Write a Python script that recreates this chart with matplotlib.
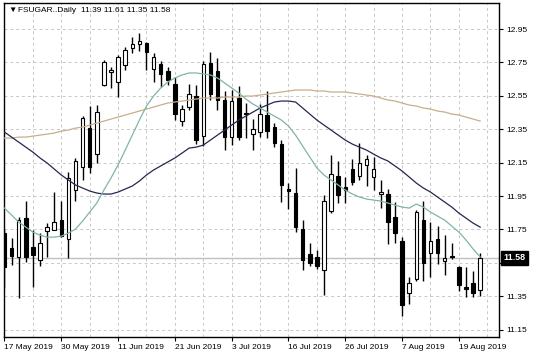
import matplotlib
matplotlib.use("Agg")
import matplotlib.pyplot as plt
import matplotlib.transforms as mtransforms
import numpy as np

plt.rcParams['font.family'] = ['Liberation Sans', 'DejaVu Sans']

symbol = "FSUGAR..Daily"
opens = [11.73, 11.64, 11.585, 11.82, 11.645, 11.567, 11.74, 11.746, 11.806, 11.69,
         11.986, 12.124, 12.357, 12.20, 12.615, 12.695, 12.63, 12.735, 12.836, 12.86,
         12.866, 12.71, 12.74, 12.698, 12.621, 12.399, 12.483, 12.549, 12.31, 12.745,
         12.698, 12.525, 12.303, 12.537, 12.45, 12.321, 12.333, 12.435, 12.363, 12.261,
         11.99, 11.968, 11.752, 11.603, 11.585, 11.505, 11.86, 12.07, 12.004, 12.112,
         12.07, 12.136, 12.064, 11.962, 11.962, 11.824, 11.68, 11.369, 11.453, 11.806,
         11.609, 11.692, 11.561, 11.591, 11.525, 11.405, 11.429, 11.39]
highs = [11.75, 11.70, 11.825, 11.92, 11.745, 11.73, 11.79, 11.974, 11.92, 12.095,
         12.177, 12.43, 12.489, 12.495, 12.765, 12.72, 12.795, 12.84, 12.902, 12.926,
         12.872, 12.805, 12.758, 12.722, 12.663, 12.495, 12.62, 12.615, 12.758, 12.81,
         12.776, 12.58, 12.585, 12.61, 12.51, 12.41, 12.50, 12.579, 12.387, 12.285,
         12.028, 12.118, 11.806, 11.669, 11.627, 11.955, 12.195, 12.16, 12.064, 12.172,
         12.267, 12.195, 12.184, 12.046, 11.992, 11.914, 11.705, 11.465, 11.866, 11.92,
         11.794, 11.77, 11.717, 11.669, 11.53, 11.525, 11.50, 11.61]
lows = [11.40, 11.54, 11.34, 11.555, 11.405, 11.53, 11.585, 11.745, 11.705, 11.58,
        11.92, 12.046, 12.088, 12.148, 12.61, 12.60, 12.545, 12.705, 12.806, 12.818,
        12.705, 12.635, 12.603, 12.615, 12.405, 12.369, 12.465, 12.261, 12.25, 12.525,
        12.465, 12.225, 12.255, 12.285, 12.30, 12.225, 12.303, 12.297, 12.243, 11.914,
        11.872, 11.734, 11.507, 11.531, 11.513, 11.36, 11.85, 11.908, 11.908, 12.016,
        12.046, 12.01, 11.986, 11.878, 11.663, 11.669, 11.231, 11.303, 11.441, 11.441,
        11.465, 11.543, 11.477, 11.573, 11.381, 11.345, 11.345, 11.35]
closes = [11.525, 11.59, 11.805, 11.585, 11.60, 11.67, 11.764, 11.794, 11.71, 12.06,
          12.16, 12.417, 12.124, 12.453, 12.75, 12.705, 12.78, 12.825, 12.86, 12.878,
          12.812, 12.78, 12.68, 12.645, 12.441, 12.471, 12.561, 12.285, 12.74, 12.56,
          12.525, 12.303, 12.519, 12.303, 12.44, 12.351, 12.441, 12.339, 12.267, 12.016,
          11.98, 11.764, 11.567, 11.549, 11.531, 11.92, 12.082, 11.956, 11.986, 12.034,
          12.148, 12.172, 12.112, 11.974, 11.794, 11.728, 11.297, 11.429, 11.854, 11.549,
          11.68, 11.609, 11.579, 11.585, 11.417, 11.393, 11.369, 11.58]

ma_fast = [11.878, 11.836, 11.794, 11.764, 11.734, 11.716, 11.704, 11.704, 11.71, 11.728,
           11.752, 11.80, 11.854, 11.908, 11.986, 12.058, 12.136, 12.225, 12.315, 12.405,
           12.489, 12.549, 12.597, 12.633, 12.657, 12.675, 12.687, 12.687, 12.681, 12.675,
           12.657, 12.627, 12.597, 12.567, 12.531, 12.501, 12.477, 12.453, 12.429, 12.405,
           12.369, 12.315, 12.249, 12.184, 12.118, 12.076, 12.046, 12.016, 11.986, 11.962,
           11.944, 11.932, 11.926, 11.92, 11.908, 11.896, 11.884, 11.878, 11.902, 11.884,
           11.854, 11.83, 11.806, 11.77, 11.734, 11.687, 11.633, 11.585]
ma_mid = [12.333, 12.303, 12.273, 12.243, 12.213, 12.178, 12.148, 12.112, 12.076, 12.046,
          12.016, 11.998, 11.98, 11.968, 11.962, 11.962, 11.974, 11.992, 12.01, 12.04,
          12.076, 12.106, 12.13, 12.154, 12.178, 12.207, 12.237, 12.243, 12.255, 12.285,
          12.315, 12.345, 12.375, 12.405, 12.429, 12.453, 12.477, 12.495, 12.513, 12.519,
          12.519, 12.513, 12.477, 12.441, 12.405, 12.375, 12.345, 12.315, 12.285, 12.261,
          12.243, 12.225, 12.201, 12.178, 12.16, 12.13, 12.10, 12.064, 12.028, 11.998,
          11.974, 11.944, 11.914, 11.884, 11.848, 11.818, 11.788, 11.764]
ma_slow = [12.297, 12.297, 12.303, 12.303, 12.309, 12.315, 12.321, 12.327, 12.339, 12.345,
           12.357, 12.363, 12.375, 12.387, 12.399, 12.411, 12.423, 12.435, 12.447, 12.459,
           12.471, 12.483, 12.495, 12.507, 12.513, 12.519, 12.525, 12.531, 12.537, 12.537,
           12.537, 12.543, 12.543, 12.543, 12.549, 12.549, 12.555, 12.561, 12.567, 12.573,
           12.579, 12.585, 12.585, 12.585, 12.579, 12.579, 12.573, 12.573, 12.573, 12.567,
           12.561, 12.555, 12.549, 12.537, 12.525, 12.519, 12.507, 12.495, 12.489, 12.477,
           12.471, 12.459, 12.453, 12.441, 12.435, 12.423, 12.411, 12.399]

date_labels = ["17 May 2019", "30 May 2019", "11 Jun 2019", "21 Jun 2019", "3 Jul 2019",
               "16 Jul 2019", "26 Jul 2019", "7 Aug 2019", "19 Aug 2019"]
price_ticks = [11.15, 11.35, 11.55, 11.75, 11.95, 12.15, 12.35, 12.55, 12.75, 12.95]

W, H = 536, 358
fig = plt.figure(figsize=(W / 100, H / 100), dpi=100)
ax = fig.add_axes([3.5 / W, 1 - 337 / H, (499 - 3.5) / W, (337 - 3) / H])

n = len(closes)
x = np.arange(n)
o = np.array(opens); c = np.array(closes); h = np.array(highs); l = np.array(lows)

ax.set_xlim(-0.14, 69.65)
ax.set_ylim(11.106, 13.106)

grid_kw = dict(color='#c8c8c8', lw=0.7, linestyle=(0, (3, 3)), zorder=0)
for gx in range(4, 72, 4):
    ax.axvline(gx, **grid_kw)
for gy in price_ticks:
    ax.axhline(gy, **grid_kw)

# bid line
ax.axhline(closes[-1], color='#c0c0c0', lw=1.0, zorder=1)

# candles
ax.vlines(x, l, h, color='black', lw=1.0, zorder=2)
bull = c >= o
bottom = np.minimum(o, c)
height = np.maximum(np.abs(c - o), 0.004)
ax.bar(x[bull], height[bull], bottom=bottom[bull], width=0.5,
       color='white', edgecolor='black', linewidth=0.8, zorder=3)
ax.bar(x[~bull], height[~bull], bottom=bottom[~bull], width=0.5,
       color='black', edgecolor='black', linewidth=0.8, zorder=3)

# moving averages
ax.plot(x, ma_slow, color='#c9ae8c', lw=0.9, zorder=4)
ax.plot(x, ma_mid, color='#26264f', lw=0.9, zorder=4)
ax.plot(x, ma_fast, color='#80b4a8', lw=0.9, zorder=4)

for s in ax.spines.values():
    s.set_color('black'); s.set_linewidth(1.0)

ax.yaxis.tick_right()
ax.set_yticks(price_ticks)
ax.set_yticklabels([f"{v:.2f}" for v in price_ticks])
ax.tick_params(axis='y', direction='out', length=3, width=0.8, pad=2,
               labelsize=6, colors='black')
ax.set_xticks(list(range(0, 8 * len(date_labels), 8)))
ax.set_xticklabels(date_labels, ha='left')
ax.tick_params(axis='x', direction='out', length=3, width=0.8, pad=2,
               labelsize=6, colors='black')

# current price label
trans = mtransforms.blended_transform_factory(ax.transAxes, ax.transData)
ax.text(1.009, closes[-1], f"{closes[-1]:.2f}", transform=trans, ha='left', va='center',
        fontsize=6.5, color='white', fontweight='bold', zorder=10,
        bbox=dict(boxstyle='square,pad=0.25', facecolor='black', edgecolor='black'),
        clip_on=False)

# header
fig.text(8 / W, 1 - 10.5 / H, '▼', fontsize=6, va='center', ha='left', color='black')
fig.text(18 / W, 1 - 10.5 / H,
         f"{symbol}  {opens[-1]:.2f} {highs[-1]:.2f} {lows[-1]:.2f} {closes[-1]:.2f}",
         fontsize=6, va='center', ha='left', color='black')

fig.savefig("out.png", dpi=100, facecolor='white')
